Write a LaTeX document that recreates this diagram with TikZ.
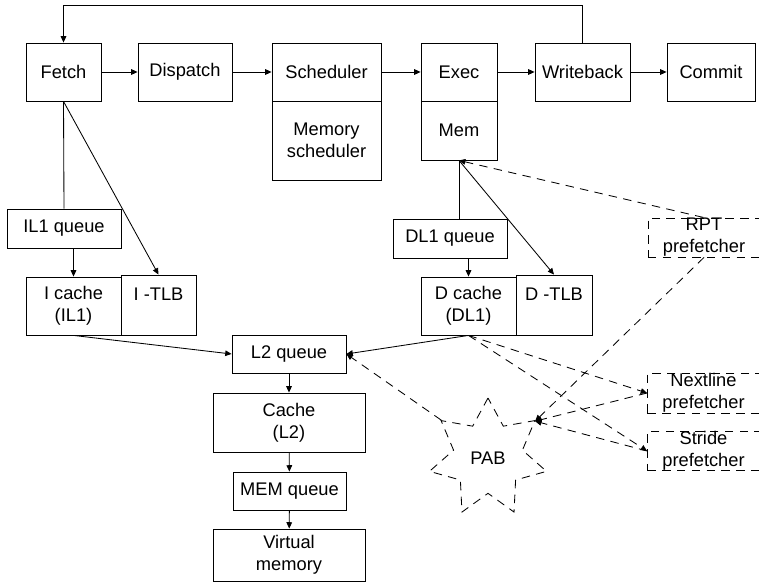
\documentclass[tikz,border=0pt]{standalone}
\usepackage{fontspec}
\setmainfont{Liberation Sans}
\usepackage{tikz}
\usetikzlibrary{arrows.meta,shapes.geometric}

\begin{document}
\begin{tikzpicture}[x=0.025cm,y=-0.025cm,
  font=\fontsize{13}{15.5}\selectfont,
  box/.style={draw,line width=0.6pt,inner sep=2pt,align=center},
  dbox/.style={box,inner sep=0pt,dash pattern=on 6pt off 4.5pt},
  arr/.style={line width=0.6pt,-{Triangle[length=4.5pt,width=4pt]}},
  darr/.style={arr,dash pattern=on 6pt off 4.5pt}]
\useasboundingbox (0,0) rectangle (759,583);

% Pipeline stages
\node[box,minimum width=1.875cm,minimum height=1.45cm] (fetch) at (63.5,72) {Fetch};
\node[box,minimum width=2.35cm,minimum height=1.45cm] (dispatch) at (185,72) {Dispatch};
\node[box,minimum width=2.725cm,minimum height=1.45cm] (sched) at (326.5,72) {Scheduler};
\node[box,minimum width=2.725cm,minimum height=1.975cm] (memsched) at (326.5,140.5) {Memory\\scheduler};
\node[box,minimum width=1.9cm,minimum height=1.45cm] (exec) at (459,72) {Exec};
\node[box,minimum width=1.9cm,minimum height=1.475cm] (mem) at (459,130.5) {Mem};
\node[box,minimum width=2.375cm,minimum height=1.45cm] (wb) at (582.5,72) {Writeback};
\node[box,minimum width=2.2cm,minimum height=1.45cm] (commit) at (711,72) {Commit};

% Instruction side
\node[box,minimum width=2.85cm,minimum height=0.975cm] (il1q) at (64,228.5) {IL1 queue};
\node[box,minimum width=2.375cm,minimum height=1.45cm] (icache) at (73.5,306) {I cache\\(IL1)};
\node[box,minimum width=1.875cm,minimum height=1.5cm] (itlb) at (158.5,305) {I -TLB\\\mbox{}};

% Data side
\node[box,minimum width=2.85cm,minimum height=0.975cm] (dl1q) at (450,238.5) {DL1 queue};
\node[box,minimum width=2.375cm,minimum height=1.45cm] (dcache) at (468.5,306) {D cache\\(DL1)};
\node[box,minimum width=1.9cm,minimum height=1.5cm] (dtlb) at (554,305) {D -TLB\\\mbox{}};

% Lower levels
\node[box,minimum width=2.85cm,minimum height=0.95cm] (l2q) at (289,354) {L2 queue};
\node[box,minimum width=3.8cm,minimum height=1.475cm] (cachel2) at (289,422.5) {Cache\\(L2)};
\node[box,minimum width=2.825cm,minimum height=0.95cm] (memq) at (289.5,491) {MEM queue};
\node[box,minimum width=3.8cm,minimum height=1.3cm] (vmem) at (289,555) {Virtual\\memory};

% Prefetchers
\node[dbox,minimum width=2.8cm,minimum height=0.975cm] (rpt) at (704,237.5) {RPT\\prefetcher};
\node[dbox,minimum width=2.8cm,minimum height=1.0cm] (nextline) at (703.5,393) {Nextline\\prefetcher};
\node[dbox,minimum width=2.8cm,minimum height=0.95cm] (stride) at (703.5,451) {Stride\\prefetcher};
\node[draw,line width=0.6pt,dash pattern=on 6pt off 4.5pt,star,star points=7,
  minimum size=3cm,star point ratio=1.7,inner sep=0pt] (pab) at (488,458) {PAB};

% Pipeline flow
\draw[arr] (fetch) -- (dispatch);
\draw[arr] (dispatch) -- (sched);
\draw[arr] (sched) -- (exec);
\draw[arr] (exec) -- (wb);
\draw[arr] (wb) -- (commit);
\coordinate (back) at (582.5,5);
\draw[arr] (wb.north) -- (back) -| (fetch.north);

% Instruction fetch path
\draw[line width=0.6pt] (fetch.south) -- (il1q.north);
\draw[arr] (fetch.south) -- (itlb.north);
\draw[arr] (il1q.south -| icache.north) -- (icache.north);
\draw[arr] (icache.south) -- (l2q.west);

% Data path
\draw[line width=0.6pt] (mem.south) -- (mem.south |- dl1q.north);
\draw[arr] (mem.south) -- (dtlb.north);
\draw[arr] (dcache.north |- dl1q.south) -- (dcache.north);
\draw[arr] (dcache.south) -- (l2q.east);

% Memory hierarchy
\draw[arr] (l2q) -- (cachel2);
\draw[arr] (cachel2) -- (memq);
\draw[arr] (memq) -- (vmem);

% Prefetch traffic
\draw[darr,{Triangle[length=4.5pt,width=4pt]}-] (mem.south) -- (rpt.north);
\draw[darr] (dcache.south) -- (nextline.west);
\draw[darr] (dcache.south) -- (stride.west);
\draw[darr] (rpt.south) -- (pab.38.57);
\draw[darr] (nextline.west) -- (pab.38.57);
\draw[darr] (stride.west) -- (pab.38.57);
\draw[darr] (pab.141.43) -- (l2q.east);
\end{tikzpicture}
\end{document}
